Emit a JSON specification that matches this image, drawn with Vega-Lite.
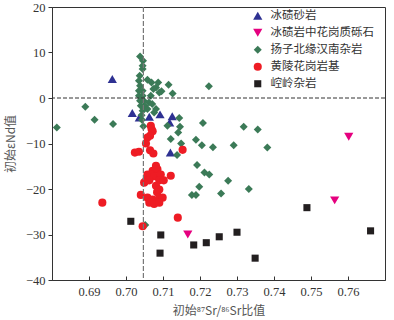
{
  "$schema": "https://vega.github.io/schema/vega-lite/v6.json",
  "autosize": "none",
  "padding": {"left": 52, "top": 7, "right": 9, "bottom": 40},
  "width": 333,
  "height": 273,
  "background": "white",
  "config": {
    "view": {"stroke": "#333333", "strokeWidth": 1},
    "axis": {
      "labelFont": "'Times New Roman', 'Liberation Serif', serif",
      "labelFontSize": 12.5,
      "labelColor": "#333333",
      "titleFont": "Noto Sans CJK SC",
      "titleFontSize": 12,
      "titleFontWeight": "normal",
      "titleColor": "#555555",
      "domainColor": "#333333",
      "tickColor": "#333333",
      "grid": false
    }
  },
  "datasets": {
    "pts": [
      {"x": 0.6963, "y": 4.2, "g": "冰碛砂岩"},
      {"x": 0.7017, "y": -3.3, "g": "冰碛砂岩"},
      {"x": 0.7036, "y": -4.3, "g": "冰碛砂岩"},
      {"x": 0.7063, "y": -4.1, "g": "冰碛砂岩"},
      {"x": 0.7092, "y": -3.6, "g": "冰碛砂岩"},
      {"x": 0.7118, "y": -5.4, "g": "冰碛砂岩"},
      {"x": 0.7125, "y": -4.0, "g": "冰碛砂岩"},
      {"x": 0.7120, "y": -12.0, "g": "冰碛砂岩"},

      {"x": 0.7602, "y": -8.5, "g": "冰碛岩中花岗质砾石"},
      {"x": 0.7564, "y": -22.5, "g": "冰碛岩中花岗质砾石"},
      {"x": 0.7167, "y": -30.0, "g": "冰碛岩中花岗质砾石"},

      {"x": 0.6813, "y": -6.5, "g": "扬子北缘汉南杂岩"},
      {"x": 0.6890, "y": -1.9, "g": "扬子北缘汉南杂岩"},
      {"x": 0.6915, "y": -4.8, "g": "扬子北缘汉南杂岩"},
      {"x": 0.6965, "y": -5.7, "g": "扬子北缘汉南杂岩"},
      {"x": 0.7038, "y": 9.1, "g": "扬子北缘汉南杂岩"},
      {"x": 0.7046, "y": 8.2, "g": "扬子北缘汉南杂岩"},
      {"x": 0.7045, "y": 7.1, "g": "扬子北缘汉南杂岩"},
      {"x": 0.7045, "y": 6.4, "g": "扬子北缘汉南杂岩"},
      {"x": 0.7037, "y": 4.9, "g": "扬子北缘汉南杂岩"},
      {"x": 0.7035, "y": 3.8, "g": "扬子北缘汉南杂岩"},
      {"x": 0.7038, "y": 2.7, "g": "扬子北缘汉南杂岩"},
      {"x": 0.7035, "y": 1.6, "g": "扬子北缘汉南杂岩"},
      {"x": 0.7045, "y": 1.6, "g": "扬子北缘汉南杂岩"},
      {"x": 0.7035, "y": 0.5, "g": "扬子北缘汉南杂岩"},
      {"x": 0.7045, "y": 0.5, "g": "扬子北缘汉南杂岩"},
      {"x": 0.7038, "y": -0.6, "g": "扬子北缘汉南杂岩"},
      {"x": 0.7048, "y": -0.6, "g": "扬子北缘汉南杂岩"},
      {"x": 0.7040, "y": -1.7, "g": "扬子北缘汉南杂岩"},
      {"x": 0.7050, "y": -1.7, "g": "扬子北缘汉南杂岩"},
      {"x": 0.7045, "y": -2.8, "g": "扬子北缘汉南杂岩"},
      {"x": 0.7042, "y": -3.8, "g": "扬子北缘汉南杂岩"},
      {"x": 0.7043, "y": -4.8, "g": "扬子北缘汉南杂岩"},
      {"x": 0.7047, "y": -6.2, "g": "扬子北缘汉南杂岩"},
      {"x": 0.7058, "y": -2.4, "g": "扬子北缘汉南杂岩"},
      {"x": 0.7058, "y": 4.0, "g": "扬子北缘汉南杂岩"},
      {"x": 0.7069, "y": 3.4, "g": "扬子北缘汉南杂岩"},
      {"x": 0.7074, "y": 2.0, "g": "扬子北缘汉南杂岩"},
      {"x": 0.7081, "y": 2.3, "g": "扬子北缘汉南杂岩"},
      {"x": 0.7087, "y": 3.4, "g": "扬子北缘汉南杂岩"},
      {"x": 0.7090, "y": 1.2, "g": "扬子北缘汉南杂岩"},
      {"x": 0.7096, "y": 1.5, "g": "扬子北缘汉南杂岩"},
      {"x": 0.7115, "y": 2.9, "g": "扬子北缘汉南杂岩"},
      {"x": 0.7126, "y": 1.0, "g": "扬子北缘汉南杂岩"},
      {"x": 0.7067, "y": 0.5, "g": "扬子北缘汉南杂岩"},
      {"x": 0.7062, "y": -1.0, "g": "扬子北缘汉南杂岩"},
      {"x": 0.7071, "y": -1.3, "g": "扬子北缘汉南杂岩"},
      {"x": 0.7081, "y": -2.4, "g": "扬子北缘汉南杂岩"},
      {"x": 0.7076, "y": -3.2, "g": "扬子北缘汉南杂岩"},
      {"x": 0.7224, "y": 2.6, "g": "扬子北缘汉南杂岩"},
      {"x": 0.7144, "y": -4.4, "g": "扬子北缘汉南杂岩"},
      {"x": 0.7146, "y": -6.3, "g": "扬子北缘汉南杂岩"},
      {"x": 0.7112, "y": -6.1, "g": "扬子北缘汉南杂岩"},
      {"x": 0.7208, "y": -5.5, "g": "扬子北缘汉南杂岩"},
      {"x": 0.7141, "y": -7.6, "g": "扬子北缘汉南杂岩"},
      {"x": 0.7121, "y": -9.0, "g": "扬子北缘汉南杂岩"},
      {"x": 0.7149, "y": -10.0, "g": "扬子北缘汉南杂岩"},
      {"x": 0.7138, "y": -12.5, "g": "扬子北缘汉南杂岩"},
      {"x": 0.7189, "y": -9.2, "g": "扬子北缘汉南杂岩"},
      {"x": 0.7205, "y": -10.4, "g": "扬子北缘汉南杂岩"},
      {"x": 0.7318, "y": -6.3, "g": "扬子北缘汉南杂岩"},
      {"x": 0.7356, "y": -6.9, "g": "扬子北缘汉南杂岩"},
      {"x": 0.7235, "y": -10.8, "g": "扬子北缘汉南杂岩"},
      {"x": 0.7291, "y": -10.4, "g": "扬子北缘汉南杂岩"},
      {"x": 0.7382, "y": -10.9, "g": "扬子北缘汉南杂岩"},
      {"x": 0.7192, "y": -14.7, "g": "扬子北缘汉南杂岩"},
      {"x": 0.7212, "y": -16.4, "g": "扬子北缘汉南杂岩"},
      {"x": 0.7225, "y": -16.8, "g": "扬子北缘汉南杂岩"},
      {"x": 0.7276, "y": -18.2, "g": "扬子北缘汉南杂岩"},
      {"x": 0.7198, "y": -19.5, "g": "扬子北缘汉南杂岩"},
      {"x": 0.7332, "y": -20.0, "g": "扬子北缘汉南杂岩"},
      {"x": 0.7178, "y": -21.3, "g": "扬子北缘汉南杂岩"},
      {"x": 0.7189, "y": -21.3, "g": "扬子北缘汉南杂岩"},
      {"x": 0.7257, "y": -21.0, "g": "扬子北缘汉南杂岩"},
      {"x": 0.7052, "y": -27.9, "g": "扬子北缘汉南杂岩"},

      {"x": 0.7067, "y": -6.1, "g": "黄陵花岗岩基"},
      {"x": 0.7069, "y": -6.8, "g": "黄陵花岗岩基"},
      {"x": 0.7072, "y": -7.3, "g": "黄陵花岗岩基"},
      {"x": 0.7065, "y": -8.3, "g": "黄陵花岗岩基"},
      {"x": 0.7058, "y": -8.7, "g": "黄陵花岗岩基"},
      {"x": 0.7054, "y": -10.0, "g": "黄陵花岗岩基"},
      {"x": 0.7024, "y": -12.0, "g": "黄陵花岗岩基"},
      {"x": 0.7035, "y": -11.8, "g": "黄陵花岗岩基"},
      {"x": 0.7065, "y": -11.5, "g": "黄陵花岗岩基"},
      {"x": 0.7074, "y": -12.2, "g": "黄陵花岗岩基"},
      {"x": 0.7153, "y": -11.4, "g": "黄陵花岗岩基"},
      {"x": 0.7081, "y": -14.9, "g": "黄陵花岗岩基"},
      {"x": 0.7072, "y": -16.0, "g": "黄陵花岗岩基"},
      {"x": 0.7085, "y": -15.7, "g": "黄陵花岗岩基"},
      {"x": 0.7058, "y": -16.8, "g": "黄陵花岗岩基"},
      {"x": 0.7067, "y": -16.8, "g": "黄陵花岗岩基"},
      {"x": 0.7076, "y": -17.2, "g": "黄陵花岗岩基"},
      {"x": 0.7094, "y": -16.8, "g": "黄陵花岗岩基"},
      {"x": 0.7054, "y": -18.2, "g": "黄陵花岗岩基"},
      {"x": 0.7063, "y": -18.1, "g": "黄陵花岗岩基"},
      {"x": 0.7090, "y": -18.1, "g": "黄陵花岗岩基"},
      {"x": 0.7102, "y": -18.1, "g": "黄陵花岗岩基"},
      {"x": 0.7121, "y": -17.1, "g": "黄陵花岗岩基"},
      {"x": 0.7049, "y": -18.6, "g": "黄陵花岗岩基"},
      {"x": 0.7081, "y": -19.3, "g": "黄陵花岗岩基"},
      {"x": 0.7090, "y": -20.1, "g": "黄陵花岗岩基"},
      {"x": 0.7084, "y": -20.7, "g": "黄陵花岗岩基"},
      {"x": 0.7040, "y": -21.3, "g": "黄陵花岗岩基"},
      {"x": 0.7058, "y": -21.9, "g": "黄陵花岗岩基"},
      {"x": 0.7072, "y": -22.3, "g": "黄陵花岗岩基"},
      {"x": 0.7090, "y": -21.9, "g": "黄陵花岗岩基"},
      {"x": 0.7099, "y": -21.9, "g": "黄陵花岗岩基"},
      {"x": 0.7063, "y": -23.0, "g": "黄陵花岗岩基"},
      {"x": 0.7076, "y": -23.3, "g": "黄陵花岗岩基"},
      {"x": 0.7090, "y": -23.0, "g": "黄陵花岗岩基"},
      {"x": 0.6936, "y": -23.0, "g": "黄陵花岗岩基"},
      {"x": 0.7140, "y": -26.3, "g": "黄陵花岗岩基"},
      {"x": 0.7045, "y": -28.2, "g": "黄陵花岗岩基"},

      {"x": 0.7013, "y": -27.1, "g": "崆岭杂岩"},
      {"x": 0.7094, "y": -30.1, "g": "崆岭杂岩"},
      {"x": 0.7092, "y": -34.1, "g": "崆岭杂岩"},
      {"x": 0.7183, "y": -32.3, "g": "崆岭杂岩"},
      {"x": 0.7217, "y": -31.8, "g": "崆岭杂岩"},
      {"x": 0.7252, "y": -30.5, "g": "崆岭杂岩"},
      {"x": 0.7300, "y": -29.5, "g": "崆岭杂岩"},
      {"x": 0.7349, "y": -35.2, "g": "崆岭杂岩"},
      {"x": 0.7489, "y": -24.1, "g": "崆岭杂岩"},
      {"x": 0.7661, "y": -29.2, "g": "崆岭杂岩"}
    ],
    "vline": [{"x": 0.7047}],
    "hline": [{"y": 0}]
  },
  "layer": [
    {
      "data": {"name": "pts"},
      "mark": {"type": "point", "filled": true, "opacity": 1, "strokeWidth": 0},
      "encoding": {
        "x": {
          "field": "x", "type": "quantitative",
          "scale": {"domain": [0.68, 0.77], "zero": false, "nice": false},
          "axis": {
            "values": [0.69, 0.7, 0.71, 0.72, 0.73, 0.74, 0.75, 0.76],
            "format": ".2f",
            "tickSize": -4,
            "labelPadding": 9,
            "title": "初始⁸⁷Sr/⁸⁶Sr比值",
            "titlePadding": 8
          }
        },
        "y": {
          "field": "y", "type": "quantitative",
          "scale": {"domain": [-40, 20], "nice": false},
          "axis": {
            "values": [-40, -30, -20, -10, 0, 10, 20],
            "tickSize": 4,
            "labelPadding": 3,
            "title": "初始εNd值",
            "titlePadding": 8
          }
        },
        "shape": {
          "field": "g", "type": "nominal",
          "scale": {
            "domain": ["冰碛砂岩", "冰碛岩中花岗质砾石", "扬子北缘汉南杂岩", "黄陵花岗岩基", "崆岭杂岩"],
            "range": ["triangle-up", "triangle-down", "diamond", "circle", "square"]
          },
          "legend": {
            "orient": "none", "legendX": 200, "legendY": 3,
            "title": null, "padding": 0,
            "labelFont": "Noto Sans CJK SC", "labelFontSize": 11.5, "labelColor": "#333333",
            "rowPadding": 4, "labelOffset": 7, "symbolStrokeWidth": 0
          }
        },
        "color": {
          "field": "g", "type": "nominal",
          "scale": {
            "domain": ["冰碛砂岩", "冰碛岩中花岗质砾石", "扬子北缘汉南杂岩", "黄陵花岗岩基", "崆岭杂岩"],
            "range": ["#2E3192", "#E5007F", "#3B7A57", "#EE1C24", "#231F20"]
          }
        },
        "size": {
          "field": "g", "type": "nominal",
          "scale": {
            "type": "ordinal",
            "domain": ["冰碛砂岩", "冰碛岩中花岗质砾石", "扬子北缘汉南杂岩", "黄陵花岗岩基", "崆岭杂岩"],
            "range": [85, 85, 64, 66, 50]
          }
        }
      }
    },
    {
      "data": {"name": "vline"},
      "mark": {"type": "rule", "color": "#777777", "strokeWidth": 1.2, "strokeDash": [5, 2]},
      "encoding": {"x": {"field": "x", "type": "quantitative"}}
    },
    {
      "data": {"name": "hline"},
      "mark": {"type": "rule", "color": "#333333", "strokeWidth": 1, "strokeDash": [4, 2]},
      "encoding": {"y": {"field": "y", "type": "quantitative"}}
    }
  ]
}
